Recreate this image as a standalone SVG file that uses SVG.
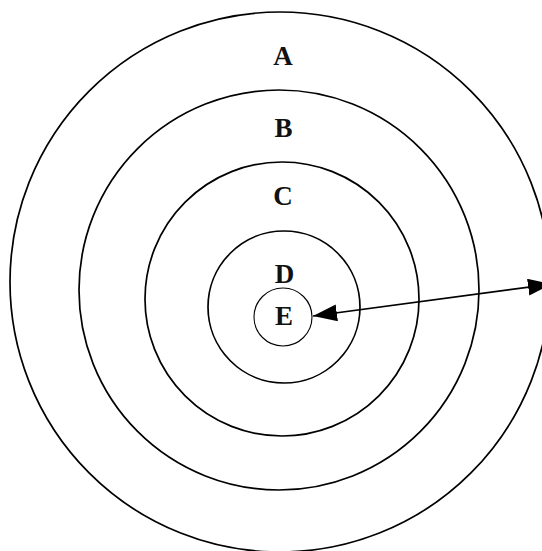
<svg xmlns="http://www.w3.org/2000/svg" width="542" height="551" viewBox="0 0 542 551">
<style>
.ring{fill:none;stroke:#000;stroke-width:1.7}
.inner{fill:none;stroke:#000;stroke-width:1.1}
.lbl{font-family:"Liberation Serif","Times New Roman",serif;font-weight:bold;font-size:27px;text-anchor:middle;fill:#111}
.conn{stroke:#000;stroke-width:1.7;fill:none}
</style>
<defs>
<marker id="ah" viewBox="0 0 24 17" refX="24" refY="8.5" markerWidth="24" markerHeight="17" markerUnits="userSpaceOnUse" orient="auto-start-reverse">
<path d="M0,0 L24,8.5 L0,17 Z" fill="#000"/>
</marker>
</defs>
<rect width="542" height="551" fill="#fff"/>
<g id="A"><circle class="ring" cx="280" cy="282" r="270"/><text class="lbl" x="283" y="65">A</text></g>
<g id="B"><circle class="ring" cx="279" cy="290" r="200"/><text class="lbl" x="283.5" y="137">B</text></g>
<g id="C"><circle class="ring" cx="282" cy="299" r="137"/><text class="lbl" x="283" y="205">C</text></g>
<g id="D"><circle class="ring" cx="284" cy="307" r="76"/><text class="lbl" x="284.5" y="283">D</text></g>
<g id="E"><circle class="inner" cx="283" cy="317" r="29"/><text class="lbl" x="284" y="325">E</text></g>
<g id="connectors">
<line class="conn" x1="313" y1="316" x2="552" y2="284" marker-start="url(#ah)" marker-end="url(#ah)"/>
</g>
</svg>
